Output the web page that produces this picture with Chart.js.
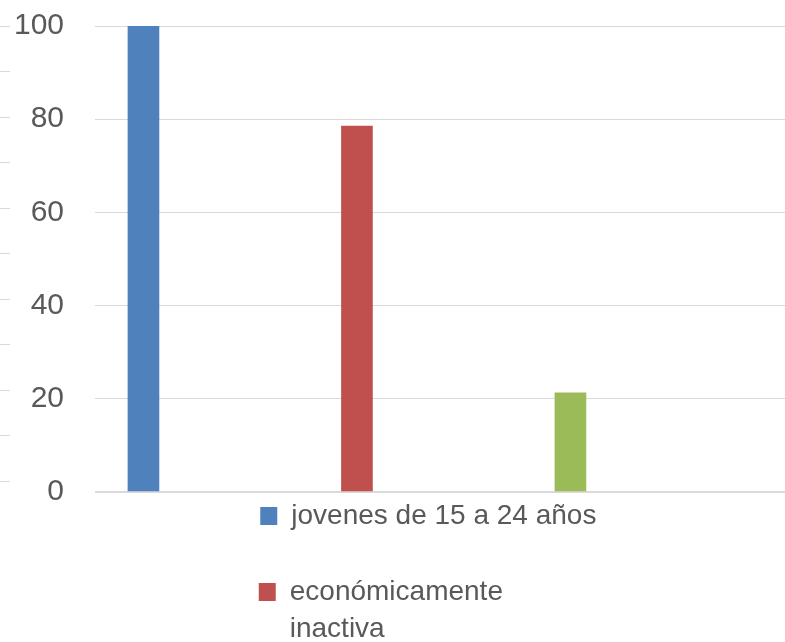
<!DOCTYPE html>
<html>
<head>
<meta charset="utf-8">
<script src="https://cdn.jsdelivr.net/npm/chart.js@4.4.1/dist/chart.umd.min.js"></script>
<style>
html,body{margin:0;padding:0;background:#ffffff;}
#wrap{width:785px;height:642px;position:relative;}
</style>
</head>
<body>
<div id="wrap"><canvas id="c"></canvas></div>
<script>
// ---- data ----
const categories = ['jovenes de 15 a 24 años', 'económicamente inactiva', 'económicamente activa'];
const legendLines = [['jovenes de 15 a 24 años'], ['económicamente', 'inactiva'], ['económicamente', 'activa']];
const values = [100, 78.5, 21.3];
const colors = ['#4f81bd', '#c0504d', '#9bbb59'];
const yTickValues = [0, 20, 40, 60, 80, 100];
const minorMarks = [0, 1, 2, 3, 4, 5, 6, 7, 8, 9, 10];

const FONT = "'Liberation Sans', Arial, sans-serif";
const TEXT = '#595959';
const GRID = '#d9d9d9';
const legendPad = ['   ', '  ', '  '];
const blankText = ' '.repeat(44);

const ctx = document.getElementById('c');
new Chart(ctx, {
  type: 'bar',
  data: {
    datasets: [{
      label: 'serie',
      data: values.map((v, i) => ({ x: i + 1, y: v })),
      backgroundColor: colors,
      borderWidth: 0,
      barThickness: 31
    }]
  },
  options: {
    responsive: true,
    maintainAspectRatio: false,
    animation: false,
    layout: { padding: { top: 26, right: 0, bottom: 0, left: 0 } },
    scales: {
      x: {
        type: 'linear',
        offset: false,
        min: 0.773,
        max: 4.005,
        display: false
      },
      y: {
        position: 'left',
        weight: 0,
        min: 0,
        max: 100,
        afterBuildTicks: s => { s.ticks = yTickValues.map(v => ({ value: v })); },
        ticks: { color: TEXT, font: { family: FONT, size: 30 }, padding: 0 },
        grid: {
          color: GRID,
          lineWidth: c => (c.tick && c.tick.value === 0 ? 2 : 1),
          drawTicks: true,
          tickLength: 31,
          tickColor: 'rgba(0,0,0,0)'
        },
        border: { display: false },
        afterFit: s => { s.width = 85; }
      },
      marks: {
        position: 'left',
        weight: 1,
        min: -0.24,
        max: 10,
        afterBuildTicks: s => { s.ticks = minorMarks.map(v => ({ value: v })); },
        ticks: { display: false },
        grid: { color: GRID, drawOnChartArea: false, tickLength: 10, lineWidth: 1 },
        border: { display: false }
      }
    },
    plugins: {
      tooltip: { enabled: false },
      legend: {
        position: 'bottom',
        fullSize: false,
        align: 'center',
        maxHeight: 150,
        labels: {
          font: { family: FONT, size: 28, lineHeight: 1.32 },
          color: TEXT,
          boxWidth: 17,
          boxHeight: 18,
          padding: 10,
          generateLabels: () => {
            const items = [];
            legendLines.forEach((lines, i) => {
              if (i > 0) {
                items.push({ text: blankText, fillStyle: 'rgba(0,0,0,0)', strokeStyle: 'rgba(0,0,0,0)', lineWidth: 0, hidden: false, fontColor: TEXT, index: -1, datasetIndex: 0 });
              }
              const t = lines.slice();
              t[t.length - 1] = t[t.length - 1] + legendPad[i];
              items.push({ text: t.length === 1 ? t[0] : t, fillStyle: colors[i], strokeStyle: colors[i], lineWidth: 0, hidden: false, fontColor: TEXT, index: i, datasetIndex: 0 });
            });
            return items;
          }
        }
      }
    }
  }
});
</script>
</body>
</html>
